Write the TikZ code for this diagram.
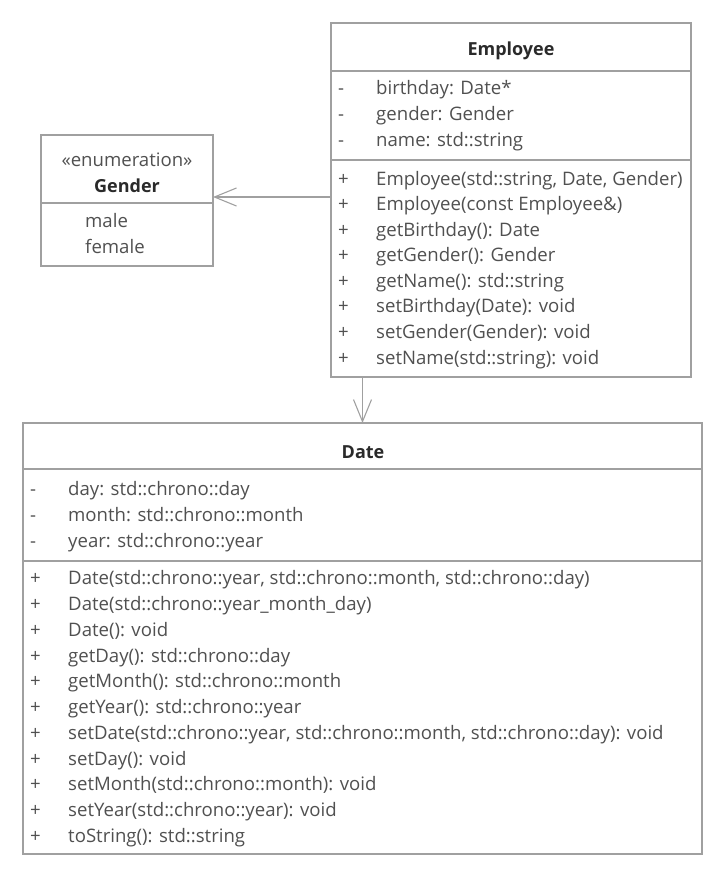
\documentclass[tikz,border=0pt]{standalone}
\usepackage{fontspec}
\setmainfont{Open Sans}
\usetikzlibrary{arrows.meta}

\definecolor{linegray}{HTML}{A0A0A0}
\definecolor{textgray}{HTML}{505050}
\definecolor{titlegray}{HTML}{2A2A2A}

\begin{document}
\begin{tikzpicture}[x=1pt, y=-1pt,
    umlbox/.style={draw=linegray, line width=1.3pt, inner sep=0pt, outer sep=0pt, anchor=north west},
    sepline/.style={draw=linegray, line width=1.3pt},
    title/.style={font=\fontsize{18}{21}\selectfont\bfseries, text=titlegray, inner sep=0pt, yshift=-2pt},
    member/.style={font=\fontsize{18.6}{22}\selectfont, text=textgray, inner sep=0pt, anchor=mid west, yshift=-3pt},
    assoc/.style={draw=linegray, line width=1.1pt, -{Straight Barb[length=22pt, width=18pt, line width=1.1pt]}}]
    \useasboundingbox (0,0) rectangle (727,896);

    % boxes
    \node[umlbox, minimum width=360pt, minimum height=354pt] (employee) at (331,23) {};
    \node[umlbox, minimum width=172pt, minimum height=131pt] (gender) at (41,135) {};
    \node[umlbox, minimum width=679pt, minimum height=431pt] (date) at (23,423) {};

    \draw[sepline] (331,71) -- (691,71);
    \draw[sepline] (331,160) -- (691,160);
    \draw[sepline] (41,203) -- (213,203);
    \draw[sepline] (23,469) -- (702,469);
    \draw[sepline] (23,561) -- (702,561);

    % Employee
    \node[title] (emptitle) at (511,49) {Employee};
    \node[member] (ea1) at (338,89) {\makebox[38pt][l]{-}birthday: Date*};
    \node[member] (ea2) at (338,115) {\makebox[38pt][l]{-}gender: Gender};
    \node[member] (ea3) at (338,141) {\makebox[38pt][l]{-}name: std::string};
    \node[member] (em1) at (338,180) {\makebox[38pt][l]{+}Employee(std::string, Date, Gender)};
    \node[member] (em2) at (338,205) {\makebox[38pt][l]{+}Employee(const Employee\&)};
    \node[member] (em3) at (338,231) {\makebox[38pt][l]{+}getBirthday(): Date};
    \node[member] (em4) at (338,256) {\makebox[38pt][l]{+}getGender(): Gender};
    \node[member] (em5) at (338,282) {\makebox[38pt][l]{+}getName(): std::string};
    \node[member] (em6) at (338,307) {\makebox[38pt][l]{+}setBirthday(Date): void};
    \node[member] (em7) at (338,333) {\makebox[38pt][l]{+}setGender(Gender): void};
    \node[member] (em8) at (338,359) {\makebox[38pt][l]{+}setName(std::string): void};

    % Gender
    \node[member, anchor=center] (genstereo) at (127,157) {«enumeration»};
    \node[title] (gentitle) at (127,184) {Gender};
    \node[member] (gv1) at (85,222) {male};
    \node[member] (gv2) at (85,248) {female};

    % Date
    \node[title] (datetitle) at (363,450) {Date};
    \node[member] (da1) at (30,490) {\makebox[38pt][l]{-}day: std::chrono::day};
    \node[member] (da2) at (30,516) {\makebox[38pt][l]{-}month: std::chrono::month};
    \node[member] (da3) at (30,542) {\makebox[38pt][l]{-}year: std::chrono::year};
    \node[member] (dm1) at (30,579) {\makebox[38pt][l]{+}Date(std::chrono::year, std::chrono::month, std::chrono::day)};
    \node[member] (dm2) at (30,605) {\makebox[38pt][l]{+}Date(std::chrono::year\_month\_day)};
    \node[member] (dm3) at (30,631) {\makebox[38pt][l]{+}Date(): void};
    \node[member] (dm4) at (30,657) {\makebox[38pt][l]{+}getDay(): std::chrono::day};
    \node[member] (dm5) at (30,682) {\makebox[38pt][l]{+}getMonth(): std::chrono::month};
    \node[member] (dm6) at (30,708) {\makebox[38pt][l]{+}getYear(): std::chrono::year};
    \node[member] (dm7) at (30,734) {\makebox[38pt][l]{+}setDate(std::chrono::year, std::chrono::month, std::chrono::day): void};
    \node[member] (dm8) at (30,760) {\makebox[38pt][l]{+}setDay(): void};
    \node[member] (dm9) at (30,785) {\makebox[38pt][l]{+}setMonth(std::chrono::month): void};
    \node[member] (dm10) at (30,811) {\makebox[38pt][l]{+}setYear(std::chrono::year): void};
    \node[member] (dm11) at (30,837) {\makebox[38pt][l]{+}toString(): std::string};

    % associations
    \draw[assoc] (employee.west |- 0,197) -- (gender.east |- 0,197);
    \draw[assoc] (employee.south -| date.north) -- (date.north);
\end{tikzpicture}
\end{document}
